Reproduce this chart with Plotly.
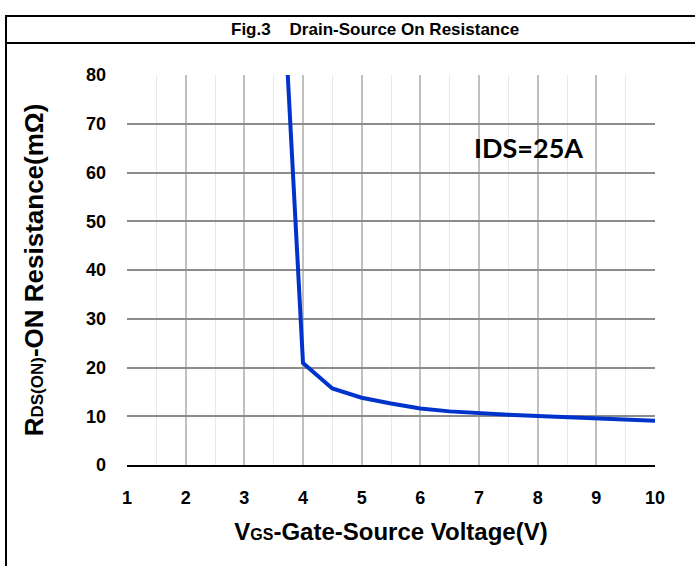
import plotly.graph_objects as go

vgs = [3.74, 4.0, 4.5, 5.0, 5.5, 6.0, 6.5, 7.0, 7.5, 8.0, 8.5, 9.0, 9.5, 10.0]
rds = [80, 20.9, 15.7, 13.8, 12.6, 11.6, 11.0, 10.6, 10.3, 10.05, 9.8, 9.6, 9.35, 9.1]
x_ticks = [1, 2, 3, 4, 5, 6, 7, 8, 9, 10]
y_ticks = [0, 10, 20, 30, 40, 50, 60, 70, 80]

FONT = "Liberation Sans, Arial, sans-serif"

fig = go.Figure()
fig.add_trace(go.Scatter(x=vgs, y=rds, mode="lines",
                         line=dict(color="#0033CC", width=4), showlegend=False))

W, H = 695, 566
L, R, T, B = 127, 40, 75, 101
pw, ph = W - L - R, H - T - B

def px(xp):
    return (xp - L) / pw

def py(yp):
    return (H - B - yp) / ph

fig.update_layout(
    width=W, height=H,
    margin=dict(l=L, r=R, t=T, b=B, pad=0),
    paper_bgcolor="white", plot_bgcolor="white",
    font=dict(family=FONT, color="black"),
    xaxis=dict(range=[1, 10], tickvals=x_ticks, ticktext=[str(v) for v in x_ticks],
               showgrid=True, gridcolor="#C0C0C0", gridwidth=1.5,
               minor=dict(dtick=0.5, showgrid=True, gridcolor="#E8E8E8", gridwidth=1),
               showline=True, linecolor="black", linewidth=2,
               zeroline=False, ticks="", ticklabelstandoff=15,
               tickfont=dict(size=18, family=FONT, weight="bold"),
               title=dict(text="V<span style='font-size:16px'>GS</span>-Gate-Source Voltage(V)",
                          font=dict(size=24, family=FONT, weight="bold"), standoff=17)),
    yaxis=dict(range=[0, 80], tickvals=y_ticks, ticktext=[str(v) for v in y_ticks],
               showgrid=True, gridcolor="#8C8C8C", gridwidth=1.5,
               showline=False, zeroline=False, ticks="", ticklabelstandoff=20,
               tickfont=dict(size=18, family=FONT, weight="bold"),
               title=dict(text="R<span style='font-size:17px'>DS(ON)</span>-ON Resistance(mΩ)",
                          font=dict(size=26, family=FONT, weight="bold"), standoff=34)),
    annotations=[
        dict(text="Fig.3    Drain-Source On Resistance", xref="paper", yref="paper",
             x=px(375), y=py(30), xanchor="center", yanchor="middle", showarrow=False,
             font=dict(size=17, family=FONT, weight="bold")),
        dict(text="IDS=25A", xref="paper", yref="paper",
             x=px(528), y=py(147), xanchor="center", yanchor="middle", showarrow=False,
             font=dict(size=27, family="Lato, Open Sans, sans-serif", weight="bold")),
    ],
    shapes=[
        dict(type="line", xref="paper", yref="paper", x0=px(6), x1=px(700), y0=py(16), y1=py(16),
             line=dict(color="black", width=2)),
        dict(type="line", xref="paper", yref="paper", x0=px(6), x1=px(700), y0=py(43), y1=py(43),
             line=dict(color="black", width=2)),
        dict(type="line", xref="paper", yref="paper", x0=px(6), x1=px(6), y0=py(15), y1=py(575),
             line=dict(color="black", width=2)),
    ],
)

fig.write_html("out.html", config={"displayModeBar": False},
               post_script="document.body.style.margin='0';document.body.style.overflow='hidden';")
